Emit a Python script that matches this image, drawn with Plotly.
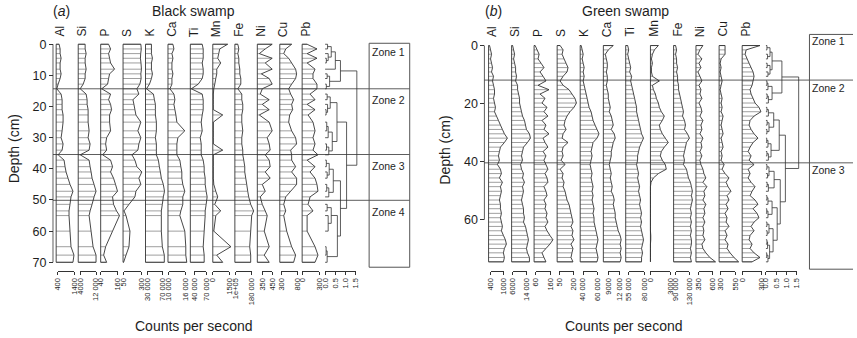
import plotly.graph_objects as go

# ============================================================ data
ELEMENTS = ["Al", "Si", "P", "S", "K", "Ca", "Ti", "Mn", "Fe", "Ni", "Cu", "Pb"]

# ---------------- (a) Black swamp
black_depth = [0, 1.5, 3, 4.5, 6, 8, 9.5, 11, 12.8, 14.3, 16, 17.8, 19.3, 21, 22.7,
               25, 27.8, 30, 32, 34, 35.5, 37.2, 39.3, 41, 43, 45, 47.2, 49, 51.4,
               53.5, 55, 60, 65, 67.7, 70]
black_al = [480, 540, 540, 600, 540, 540, 600, 540, 420, 340, 600, 660, 660, 660, 720,
            720, 660, 600, 720, 660, 420, 780, 840, 900, 1020, 1140, 1320, 1200, 1140,
            1080, 1080, 1140, 1200, 1380, 1320]
black_si = [6500, 6500, 7000, 6500, 6500, 7000, 6500, 6500, 5500, 4000, 7000, 7500, 7500,
            8000, 8000, 8000, 8500, 8000, 9000, 8500, 4000, 8500, 9000, 9500, 10000, 11000,
            12000, 11000, 10000, 9000, 8500, 9500, 10500, 12000, 12000]
black_p = [96, 110, 96, 103, 110, 138, 103, 96, 89, 47, 110, 96, 110, 117, 103, 103, 110,
           82, 75, 82, 54, 110, 124, 110, 131, 145, 159, 124, 131, 152, 173, 124, 75, 61, 82]
black_s = [292, 298, 290, 286, 294, 300, 292, 296, 278, 236, 264, 180, 194, 208, 222, 292,
           250, 292, 264, 250, 166, 208, 236, 306, 264, 292, 222, 208, 124, 54, 82, 138,
           124, 82, 48]
black_k = [41000, 41000, 41000, 43500, 41000, 41000, 43500, 41000, 36000, 28500, 46000,
           48500, 51000, 51000, 51000, 53500, 53500, 51000, 53500, 53500, 53500, 58500,
           61000, 63500, 66000, 71000, 74000, 71000, 68500, 66000, 66000, 66000, 68500,
           73500, 73500]
black_ca = [11550, 11900, 11200, 11550, 11200, 11200, 11550, 11200, 11200, 10500, 11900,
            12250, 11900, 12250, 12600, 12950, 15750, 13300, 12950, 12950, 12950, 14000,
            14350, 14700, 14700, 15050, 15750, 15050, 15050, 14350, 14000, 15750, 16100,
            16100, 16450]
black_ti = [60000, 62500, 62500, 62500, 60000, 62500, 62500, 60000, 50000, 32500, 60000,
            62500, 62500, 62500, 60000, 57500, 60000, 55000, 57500, 57500, 57500, 62500,
            65000, 65000, 67500, 67500, 70000, 72500, 70000, 67500, 67500, 65000, 62500,
            65000, 65000]
black_mn = [1350, 630, 540, 450, 720, 360, 360, 270, 180, 90, 50, 50, 50, 50, 900, 50, 50,
            50, 50, 900, 50, 50, 50, 50, 50, 90, 270, 450, 180, 720, 270, 90, 1650, 360, 900]
black_fe = [110000, 115000, 110000, 115000, 115000, 120000, 120000, 125000, 125000, 110000,
            130000, 130000, 135000, 135000, 130000, 130000, 135000, 130000, 130000, 135000,
            135000, 140000, 145000, 145000, 150000, 155000, 160000, 165000, 175000, 190000,
            180000, 175000, 170000, 175000, 175000]
black_ni = [450, 380, 320, 450, 380, 450, 340, 420, 450, 350, 330, 420, 350, 420, 320, 420,
            450, 400, 420, 430, 380, 420, 430, 380, 430, 350, 380, 330, 350, 380, 400, 370,
            420, 370, 420]
black_cu = [610, 430, 370, 520, 610, 730, 760, 730, 610, 520, 580, 670, 610, 640, 550, 520,
            610, 730, 760, 580, 610, 610, 730, 610, 760, 760, 580, 430, 370, 430, 370, 460,
            610, 730, 670]
black_pb = [88, 262, 88, 262, 88, 228, 192, 192, 262, 262, 140, 228, 88, 228, 105, 192, 228,
            192, 228, 192, 280, 88, 228, 140, 228, 262, 280, 140, 105, 192, 88, 88, 228, 280,
            228]
black_ticks = [[400, 1400], [4000, 12000], [40, 160], [50, 300], [30000, 70000],
               [10000, 16000], [40000, 70000], [0, 1500], [100000, 180000], [350, 450],
               [300, 800], [0, 300]]
black_ticktext = [["400", "1400"], ["4000", "12 000"], ["40", "160"], ["50", "300"],
                  ["30 000", "70 000"], ["10 000", "16 000"], ["40 000", "70 000"],
                  ["0", "1500"], ["1e+05", "180 000"], ["350", "450"], ["300", "800"],
                  ["0", "300"]]
black_yticks = [0, 10, 20, 30, 40, 50, 60, 70]
black_zones = [14.3, 35.4, 50.1]
black_zone_names = ["Zone 1", "Zone 2", "Zone 3", "Zone 4"]
# CONISS-style dendrogram: [left, right, height]; ints are sample indices
black_tree = [
    [[[[0, 1, 0.12], [2, [3, 4, 0.06], 0.15], 0.3], 5, 0.5],
     [[6, 7, 0.1], [8, 9, 0.06], 0.22], 0.75],
    [[[[10, 11, 0.1], [12, [13, 14, 0.05], 0.12], 0.25],
      [[[15, 16, 0.08], 17, 0.15], [[18, 19, 0.07], 20, 0.18], 0.35], 0.58],
     [[[[21, 22, 0.06], [23, 24, 0.1], 0.2], [[25, 26, 0.08], 27, 0.18], 0.4],
      [[[28, 29, 0.1], [30, 31, 0.15], 0.3], [[32, 33, 0.05], 34, 0.1], 0.6], 0.75],
     1.05],
    1.55]

# ---------------- (b) Green swamp
green_depth = [0, 1.5, 3.0, 4.6, 6.1, 7.6, 9.1, 10.6, 12.2, 13.7,
               15.2, 16.7, 18.2, 19.8, 21.3, 22.8, 24.3, 25.8, 27.4, 28.9,
               30.4, 31.9, 33.4, 35.0, 36.5, 38.0, 39.5, 41.0, 42.6, 44.1,
               45.6, 47.1, 48.6, 50.2, 51.7, 53.2, 54.7, 56.2, 57.8, 59.3,
               60.8, 62.3, 63.8, 65.4, 66.9, 68.4, 69.9, 71.4, 73.0, 74.5]
green_al = [345, 390, 435, 390, 435, 480, 435, 525, 480, 525, 570, 570, 525, 570, 615, 570,
            660, 750, 840, 930, 1020, 1155, 1020, 840, 795, 750, 795, 705, 840, 885, 795,
            930, 840, 885, 840, 795, 840, 840, 885, 840, 885, 930, 885, 975, 1065, 1110,
            1020, 975, 1020, 975]
green_si = [6050, 6600, 7150, 6600, 7150, 7700, 7700, 8250, 7700, 8800, 8800, 9350, 9900,
            9900, 10450, 11000, 11550, 12650, 13200, 13750, 15400, 15950, 14300, 12100,
            11550, 11000, 11550, 10450, 11000, 12100, 11550, 12650, 11550, 12100, 11550,
            11000, 11550, 12100, 12100, 12650, 12100, 13200, 13750, 14300, 14850, 14300,
            13750, 14300, 15400, 15400]
green_p = [57, 70, 83, 76, 96, 115, 89, 109, 128, 76, 148, 89, 122, 102, 135, 115, 141, 102,
           128, 115, 148, 109, 122, 141, 109, 128, 115, 128, 141, 122, 135, 141, 115, 128,
           135, 115, 128, 122, 135, 128, 141, 122, 135, 154, 174, 154, 128, 102, 115, 128]
green_s = [60, 90, 80, 100, 120, 140, 130, 90, 60, 90, 150, 180, 210, 225, 200, 160, 130,
           110, 100, 120, 90, 80, 140, 90, 80, 90, 70, 110, 60, 90, 80, 100, 90, 110, 120,
           130, 150, 160, 170, 180, 190, 170, 190, 180, 200, 170, 190, 180, 170, 190]
green_k = [37400, 38800, 40200, 38800, 40200, 41600, 40200, 41600, 40200, 41600, 43000,
           44400, 45800, 47200, 48600, 51400, 52800, 54200, 57000, 59800, 62600, 59800,
           54200, 52800, 51400, 52800, 51400, 50000, 51400, 52800, 51400, 52800, 54200,
           52800, 54200, 52800, 54200, 55600, 54200, 55600, 55600, 57000, 58400, 59800,
           61200, 59800, 58400, 59800, 61200, 59800]
green_ca = [10300, 9050, 8300, 8550, 8800, 8800, 8550, 8800, 8800, 8550, 8800, 9050, 9050,
            9300, 9550, 9300, 9800, 10050, 10300, 9800, 10550, 10800, 10300, 10050, 9800,
            9800, 9550, 9300, 9550, 9800, 9550, 9800, 10050, 9800, 10300, 10550, 10300,
            10550, 10800, 10800, 11050, 11300, 11550, 12050, 12300, 12050, 12300, 12050,
            12300, 12050]
green_ti = [53200, 54800, 53200, 54800, 56400, 58000, 56400, 59600, 58000, 59600, 61200,
            62800, 64400, 66000, 67600, 67600, 69200, 70800, 72400, 74000, 75600, 78800,
            75600, 72400, 70800, 69200, 69200, 67600, 69200, 70800, 69200, 70800, 72400,
            70800, 72400, 74000, 72400, 74000, 75600, 74000, 75600, 74000, 75600, 77200,
            78800, 77200, 75600, 77200, 75600, 75600]
green_mn = [1200, 600, 300, 150, 300, 150, 150, 300, 1350, 300, 450, 750, 900, 1200, 1350,
            1650, 2100, 1800, 1350, 1500, 1800, 2250, 2700, 2100, 1650, 1500, 1800, 2250,
            2400, 1200, 450, 90, 0, 0, 0, 0, 0, 0, 0, 0, 0, 0, 0, 45, 45, 0, 0, 0, 0, 0]
green_fe = [89000, 92000, 89000, 92000, 92000, 95000, 92000, 95000, 95000, 98000, 98000,
            101000, 104000, 107000, 110000, 113000, 110000, 116000, 119000, 116000, 125000,
            131000, 122000, 119000, 116000, 113000, 116000, 113000, 122000, 125000, 128000,
            134000, 137000, 140000, 137000, 140000, 137000, 134000, 137000, 134000, 137000,
            134000, 137000, 134000, 137000, 137000, 134000, 137000, 134000, 137000]
green_ni = [423, 370, 335, 405, 353, 388, 335, 370, 405, 353, 388, 370, 405, 353, 388, 405,
            370, 423, 388, 405, 370, 423, 388, 405, 370, 405, 370, 388, 423, 440, 475, 423,
            493, 440, 458, 423, 475, 440, 458, 423, 458, 423, 440, 423, 458, 405, 423, 475,
            545, 645]
green_cu = [379, 379, 379, 313, 297, 313, 297, 313, 330, 313, 297, 313, 330, 313, 330, 313,
            346, 330, 313, 330, 346, 313, 330, 346, 313, 330, 313, 363, 330, 379, 445, 396,
            429, 478, 412, 445, 396, 429, 379, 412, 396, 445, 379, 412, 379, 429, 412, 462,
            528, 605]
green_pb = [270, 60, 45, 75, 105, 135, 165, 180, 165, 150, 120, 135, 165, 195, 255, 285,
            180, 120, 105, 135, 180, 240, 165, 120, 90, 135, 105, 180, 90, 120, 90, 135, 195,
            150, 120, 195, 240, 165, 225, 255, 180, 135, 180, 120, 105, 150, 120, 180, 270,
            150]
green_ticks = [[400, 1000], [6000, 14000], [60, 160], [50, 200], [40000, 60000],
               [9000, 12000], [55000, 80000], [0, 3000], [90000, 130000], [350, 600],
               [300, 550], [0, 300]]
green_ticktext = [["400", "1000"], ["6000", "14 000"], ["60", "160"], ["50", "200"],
                  ["40 000", "60 000"], ["9000", "12 000"], ["55 000", "80 000"],
                  ["0", "3000"], ["90 000", "130 000"], ["350", "600"], ["300", "550"],
                  ["0", "300"]]
green_yticks = [0, 20, 40, 60]
green_zones = [11.9, 40.4]
green_zone_names = ["Zone 1", "Zone 2", "Zone 3"]
green_tree = [
    [[[[0, 1, 0.05], [2, 3, 0.08], 0.2], [[4, 5, 0.06], [6, 7, 0.1], 0.2], 0.3],
     [[[8, 9, 0.05], 10, 0.1], [[11, 12, 0.06], 13, 0.12], 0.3], 0.78],
    [[[[[14, 15, 0.05], 16, 0.12], [[17, 18, 0.06], [19, 20, 0.05], 0.15], 0.38],
      [[[21, 22, 0.04], 23, 0.1], [[24, 25, 0.05], 26, 0.12], 0.25], 0.65],
     [[[[27, 28, 0.05], [29, 30, 0.08], 0.15], [[31, 32, 0.06], 33, 0.12], 0.4],
      [[[[34, 35, 0.05], 36, 0.1], [[37, 38, 0.04], 39, 0.1], 0.3],
       [[[40, 41, 0.05], [42, 43, 0.06], 0.15],
        [[[44, 45, 0.05], 46, 0.08], [[47, 48, 0.04], 49, 0.1], 0.18], 0.35], 0.55],
      0.7], 0.95],
    1.6]

DENDRO_TICKS = [0, 0.5, 1.0, 1.5]
DENDRO_TICKTEXT = ["0.0", "0.5", "1.0", "1.5"]

black_values = [black_al, black_si, black_p, black_s, black_k, black_ca, black_ti,
                black_mn, black_fe, black_ni, black_cu, black_pb]
green_values = [green_al, green_si, green_p, green_s, green_k, green_ca, green_ti,
                green_mn, green_fe, green_ni, green_cu, green_pb]

# ============================================================ layout (pixels)
FW, FH = 857, 338
INK = "#333333"
BAR = "#5e5e5e"
TXT = "#1e1e1e"
FONT = "Liberation Sans, Arial, Helvetica, sans-serif"

BLACK_RANGES = [[300, 1500], [3000, 13000], [40, 180], [40, 320], [26000, 76000],
                [9800, 16800], [30000, 80000], [0, 1800], [95000, 195000], [300, 500],
                [250, 850], [0, 350]]
GREEN_RANGES = [[300, 1200], [5500, 16500], [50, 180], [30, 230], [36000, 64000],
                [7800, 12800], [50000, 82000], [0, 3000], [83000, 143000], [300, 650],
                [280, 610], [0, 300]]

LEFT = dict(base=[51.7, 74.0, 96.7, 119.3, 142.0, 164.7, 187.3, 210.0, 232.3, 255.0,
                  277.7, 300.3],
            W=20.0, dendro_base=323.5, dendro_w=33.1, dendro_range=[0, 1.6],
            top=42.0, k=3.171, axis_x=48.5, scale_y=273.0, label_y=35.5,
            box=[368, 41, 409, 269], box_closed=True, zone_x1=409,
            zone_label_x=370, zone1_label_y=50, zone_label_off=11.5,
            ylab=(9, 148), title_left=47, title_center=191, counts=(191, 329))
RIGHT = dict(base=[488.7, 512.0, 534.7, 558.0, 581.3, 604.7, 627.3, 652.3, 675.7, 698.3,
                   721.7, 745.0],
             W=20.0, dendro_base=769.0, dendro_w=33.1, dendro_range=[0, 1.6],
             top=43.3, k=2.956, axis_x=484.5, scale_y=273.0, label_y=35.5,
             box=[813, 32, 857, 271], box_closed=False, zone_x1=857,
             zone_label_x=815, zone1_label_y=38.5, zone_label_off=7.5,
             ylab=(445, 150), title_left=484, title_center=627, counts=(626, 329))


def fx(p):
    return p / FW


def fy(p):
    return 1 - p / FH


fig = go.Figure()
axes_layout = {}
shapes = []
annotations = []
counter = [0]


def new_xaxis():
    counter[0] += 1
    n = counter[0]
    return ("xaxis" if n == 1 else f"xaxis{n}"), ("x" if n == 1 else f"x{n}")


def line_shape(x0, y0, x1, y1, xref="paper", yref="paper", color=INK, width=0.8):
    shapes.append(dict(type="line", xref=xref, yref=yref, x0=x0, y0=y0, x1=x1, y1=y1,
                       line=dict(color=color, width=width), layer="above"))


def text(x, y, s, size, xref="paper", yref="paper", xanchor="center", yanchor="middle",
         angle=0, xshift=0, yshift=0):
    annotations.append(dict(x=x, y=y, xref=xref, yref=yref, text=s, showarrow=False,
                            xanchor=xanchor, yanchor=yanchor, textangle=angle,
                            xshift=xshift, yshift=yshift, borderpad=0,
                            font=dict(size=size, color=TXT, family=FONT)))


def scale_axis(b, lo, u, tvals, ttext, yid, pc):
    """Bracket-style scale bar below a column, drawn as a real axis."""
    name, ref = new_xaxis()
    t1, t2 = tvals[0], tvals[-1]
    eps = (t2 - t1) * 1e-6
    axes_layout[name] = dict(
        domain=[fx(b + (t1 - lo) / u), fx(b + (t2 - lo) / u)],
        range=[t1 - eps, t2 + eps], anchor="free", position=fy(pc["scale_y"]),
        tickmode="array", tickvals=tvals, ticktext=ttext, tickangle=-90,
        ticks="outside", ticklen=3, tickwidth=0.8, tickcolor=INK,
        showline=True, linecolor=INK, linewidth=0.8, showgrid=False, zeroline=False,
        tickfont=dict(size=7.5, color=TXT, family=FONT), fixedrange=True)
    fig.add_trace(go.Scatter(x=[t1], y=[0], xaxis=ref, yaxis=yid, mode="markers",
                             marker=dict(opacity=0), hoverinfo="skip", showlegend=False))


def tree_segments(node, depths):
    if isinstance(node, int):
        return depths[node], 0.0, [], []
    a, b, h = node
    ya, ha, xa, yya = tree_segments(a, depths)
    yb, hb, xb, yyb = tree_segments(b, depths)
    xs = xa + xb + [ha, h, h, hb, None]
    ys = yya + yyb + [ya, ya, yb, yb, None]
    return (ya + yb) / 2, h, xs, ys


def build_panel(pc, yname, yid, depths, values, ranges, ticks, ticktext, yticks, tree,
                zones, zone_names, letter, title):
    k, top = pc["k"], pc["top"]
    d_end = max(depths[-1], yticks[-1])
    pad = 4
    axes_layout[yname] = dict(
        domain=[fy(top + k * d_end + pad), fy(top - pad)],
        range=[d_end + pad / k, -pad / k], anchor="free", position=fx(pc["axis_x"]),
        showline=False, showgrid=False, zeroline=False, ticks="outside", ticklen=4,
        tickwidth=0.8, tickcolor=INK, tickmode="array", tickvals=yticks,
        tickfont=dict(size=12.5, color=TXT, family=FONT), fixedrange=True)
    # y axis line spans the labelled ticks only
    line_shape(fx(pc["axis_x"]), yticks[0], fx(pc["axis_x"]), yticks[-1], yref=yid)

    W = pc["W"]
    cpad = 2
    for i, el in enumerate(ELEMENTS):
        b = pc["base"][i]
        lo, hi = ranges[i]
        u = (hi - lo) / W
        name, ref = new_xaxis()
        axes_layout[name] = dict(domain=[fx(b - cpad), fx(b + W + cpad)],
                                 range=[lo - cpad * u, hi + cpad * u], visible=False,
                                 anchor=yid, fixedrange=True)
        vals = values[i]
        bx, by = [], []
        for v, d in zip(vals, depths):
            bx += [lo, v, None]
            by += [d, d, None]
        fig.add_trace(go.Scatter(x=bx, y=by, xaxis=ref, yaxis=yid, mode="lines",
                                 line=dict(color=BAR, width=0.6), hoverinfo="skip",
                                 showlegend=False))
        fig.add_trace(go.Scatter(x=[lo] + vals + [lo, lo],
                                 y=[depths[0]] + depths + [depths[-1], depths[0]],
                                 xaxis=ref, yaxis=yid, mode="lines",
                                 line=dict(color=INK, width=0.9, simplify=False),
                                 hoverinfo="skip", showlegend=False))
        text(lo, fy(pc["label_y"]), el, 12, xref=ref, yanchor="bottom", angle=-90,
             xshift=4)
        scale_axis(b, lo, u, ticks[i], ticktext[i], yid, pc)

    # dendrogram
    b = pc["dendro_base"]
    lo, hi = pc["dendro_range"]
    Wd = pc["dendro_w"]
    u = (hi - lo) / Wd
    name, ref = new_xaxis()
    axes_layout[name] = dict(domain=[fx(b - cpad), fx(b + Wd + cpad)],
                             range=[lo - cpad * u, hi + cpad * u], visible=False,
                             anchor=yid, fixedrange=True)
    _, _, xs, ys = tree_segments(tree, depths)
    fig.add_trace(go.Scatter(x=xs, y=ys, xaxis=ref, yaxis=yid, mode="lines",
                             line=dict(color=INK, width=0.8), hoverinfo="skip",
                             showlegend=False))
    scale_axis(b, lo, u, DENDRO_TICKS, DENDRO_TICKTEXT, yid, pc)

    # zones
    for z in zones:
        line_shape(fx(pc["axis_x"]), z, fx(pc["zone_x1"]), z, yref=yid, width=0.8)
    bx0, by0, bx1, by1 = pc["box"]
    line_shape(fx(bx0), fy(by0), fx(bx1), fy(by0), color="#555", width=1)
    line_shape(fx(bx0), fy(by0), fx(bx0), fy(by1), color="#555", width=1)
    line_shape(fx(bx0), fy(by1), fx(bx1), fy(by1), color="#555", width=1)
    if pc["box_closed"]:
        line_shape(fx(bx1), fy(by0), fx(bx1), fy(by1), color="#555", width=1)
    text(fx(pc["zone_label_x"]), fy(pc["zone1_label_y"]), zone_names[0], 10.5,
         xanchor="left")
    for z, nm in zip(zones, zone_names[1:]):
        text(fx(pc["zone_label_x"]), z, nm, 10.5, yref=yid, xanchor="left",
             yshift=-pc["zone_label_off"])

    # titles
    text(fx(pc["title_left"]), fy(8), "(<i>" + letter + "</i>)", 14, xanchor="left")
    text(fx(pc["title_center"]), fy(8), title, 14)
    text(fx(pc["ylab"][0]), fy(pc["ylab"][1]), "Depth (cm)", 14, angle=-90)
    text(fx(pc["counts"][0]), fy(pc["counts"][1]), "Counts per second", 14)


build_panel(LEFT, "yaxis", "y", black_depth, black_values, BLACK_RANGES, black_ticks,
            black_ticktext, black_yticks, black_tree, black_zones, black_zone_names,
            "a", "Black swamp")
build_panel(RIGHT, "yaxis2", "y2", green_depth, green_values, GREEN_RANGES, green_ticks,
            green_ticktext, green_yticks, green_tree, green_zones, green_zone_names,
            "b", "Green swamp")

fig.update_layout(axes_layout)
fig.update_layout(width=FW, height=FH, margin=dict(l=0, r=0, t=0, b=0),
                  paper_bgcolor="white", plot_bgcolor="rgba(0,0,0,0)",
                  showlegend=False, hovermode=False,
                  font=dict(family=FONT, color=TXT),
                  shapes=shapes, annotations=annotations)
fig.write_html("out.html", config={"displayModeBar": False},
               post_script="document.body.style.margin='0';"
                           "document.body.style.overflow='hidden';")
